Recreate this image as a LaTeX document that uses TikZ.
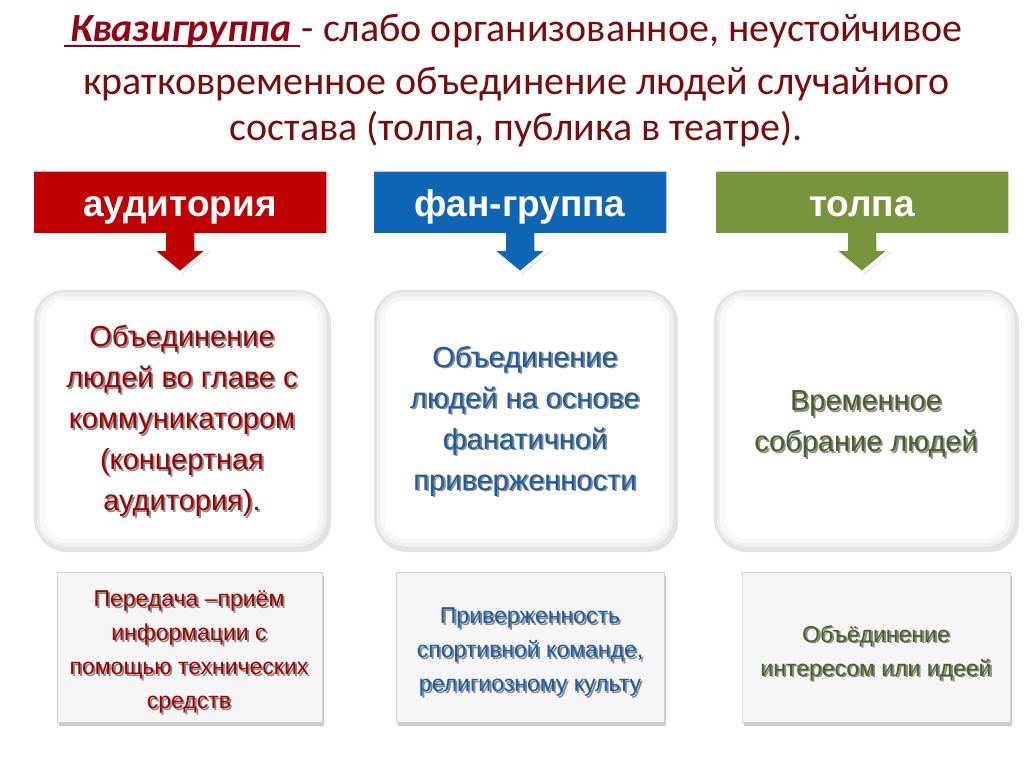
\documentclass[tikz,border=0pt]{standalone}
\usepackage{fontspec}
\setmainfont{Liberation Sans}
\newfontfamily\titlefont{Carlito}
\usetikzlibrary{shadows}
\definecolor{titlered}{RGB}{120,12,12}
\definecolor{kvred}{RGB}{150,0,20}
\definecolor{hdred}{RGB}{192,0,0}
\definecolor{hdblue}{RGB}{14,102,180}
\definecolor{hdgreen}{RGB}{119,147,60}
\definecolor{txred}{RGB}{160,0,0}
\definecolor{txblue}{RGB}{28,92,160}
\definecolor{txgreen}{RGB}{75,94,38}
\tikzset{
  titletext/.style={font=\titlefont\fontsize{40}{46}\selectfont, text=titlered, inner sep=0pt},
  hdshape/.style={draw=white, line width=3.5, line join=miter, drop shadow={opacity=0.3, shadow xshift=1.5pt, shadow yshift=-2pt}},
  hdtext/.style={font=\bfseries\fontsize{37}{40}\selectfont, text=white, inner sep=0pt, anchor=base},
  midbox/.style={rounded corners=30, fill=white, drop shadow={opacity=0.22, shadow xshift=2pt, shadow yshift=-3pt}},
  midtext/.style={font=\fontsize{29}{41}\selectfont, align=center, inner sep=0pt},
  lowbox/.style={fill=gray!7, draw=gray!35, line width=0.8, drop shadow={opacity=0.4, shadow xshift=2pt, shadow yshift=-4pt}},
  lowtext/.style={font=\fontsize{23}{34}\selectfont, align=center, inner sep=0pt},
}
\newcommand\shtext[5]{%
  \node[#3, text=black, text opacity=0.45] (#1s) at ([shift={(1.8,1.8)}]#2) {#5};
  \node[#3, text=#4] (#1) at (#2) {#5};}
\newcommand\header[4]{%
  \path[hdshape, fill=#3] (#2-148,170) -- (#2+148,170) -- (#2+148,235) -- (#2+16,235) -- (#2+16,249)
    -- (#2+29,249) -- (#2,273) -- (#2-29,249) -- (#2-16,249) -- (#2-16,235) -- (#2-148,235) -- cycle;
  \node[hdtext] (#1) at (#2,217) {#4};}
\newcommand\midrect[3]{%
  \path[midbox] (#1,290) rectangle (#2,549);
  \begin{scope}
    \clip[rounded corners=30] (#1,290) rectangle (#2,549);
    \draw[rounded corners=30, gray, line width=22, opacity=0.05] (#1,290) rectangle (#2,549);
    \draw[rounded corners=30, gray, line width=12, opacity=0.07] (#1,290) rectangle (#2,549);
    \draw[rounded corners=30, gray, line width=5, opacity=0.1] (#1,290) rectangle (#2,549);
  \end{scope}}
\begin{document}
\begin{tikzpicture}[x=1pt, y=-1pt]
\useasboundingbox[fill=white] (0,0) rectangle (1024,767);

% title
\node[titletext, anchor=base west] (kv) at (70,42) {\textcolor{kvred}{\bfseries\itshape Квазигруппа}};
\node[titletext, anchor=base west] (t1) at ([xshift=10pt]kv.base east) {- слабо организованное, неустойчивое};
\draw[kvred, line width=2.5] ([xshift=-6pt, yshift=-4pt]kv.base west) -- ([xshift=8pt, yshift=-4pt]kv.base east);
\node[titletext, anchor=base] (t2) at (516,95) {кратковременное объединение людей случайного};
\node[titletext, anchor=base] (t3) at (516,141) {состава (толпа, публика в театре).};

% headers
\header{h1}{180}{hdred}{аудитория}
\header{h2}{520}{hdblue}{фан-группа}
\header{h3}{862}{hdgreen}{толпа}

% middle boxes
\midrect{34}{329}{a}
\midrect{374}{676}{b}
\midrect{714}{1017}{c}
\shtext{m1}{182,421}{midtext}{txred}{Объединение\\людей во главе с\\коммуникатором\\(концертная\\аудитория).}
\shtext{m2}{525,421}{midtext}{txblue}{Объединение\\людей на основе\\фанатичной\\приверженности}
\shtext{m3}{866,424}{midtext}{txgreen}{Временное\\собрание людей}

% lower boxes
\path[lowbox] (57,572) rectangle (322,722);
\path[lowbox] (396,572) rectangle (664,722);
\path[lowbox] (742,572) rectangle (1010,722);
\shtext{l1}{189,652}{lowtext}{txred}{Передача –приём\\информации с\\помощью технических\\средств}
\shtext{l2}{530,652}{lowtext}{txblue}{Приверженность\\спортивной команде,\\религиозному культу}
\shtext{l3}{876,653}{lowtext}{txgreen}{Объёдинение\\интересом или идеей}
\end{tikzpicture}
\end{document}
